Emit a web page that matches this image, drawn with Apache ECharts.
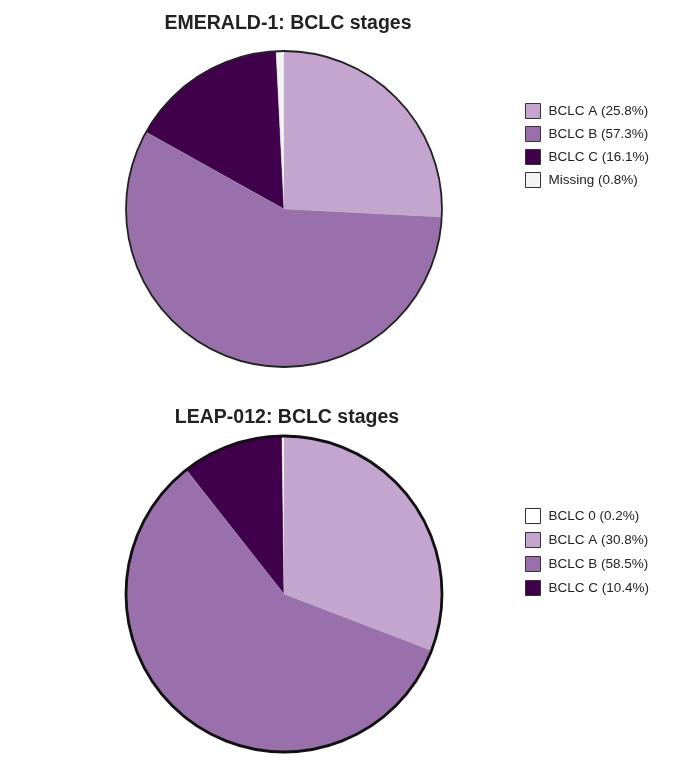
<!DOCTYPE html>
<html>
<head>
<meta charset="utf-8">
<script src="https://cdn.jsdelivr.net/npm/echarts@6/dist/echarts.min.js"></script>
<style>
  html, body { margin: 0; padding: 0; background: #fff; }
  #main { width: 692px; height: 769px; }
</style>
</head>
<body>
<div id="main"></div>
<script>
// EMERALD-1 (drawn clockwise from 12 o'clock)
var emeraldNames = ['BCLC A (25.8%)', 'BCLC B (57.3%)', 'BCLC C (16.1%)', 'Missing (0.8%)'];
var emeraldValues = [25.8, 57.3, 16.1, 0.8];
var emeraldColors = ['#c3a5cf', '#9970ab', '#40004b', '#f4f4f4'];

// LEAP-012
var leapNames = ['BCLC A (30.8%)', 'BCLC B (58.5%)', 'BCLC C (10.4%)', 'BCLC 0 (0.2%)'];
var leapValues = [30.8, 58.5, 10.4, 0.2];
var leapColors = ['#c3a5cf', '#9970ab', '#40004b', '#ffffff'];
var leapLegendOrder = ['BCLC 0 (0.2%)', 'BCLC A (30.8%)', 'BCLC B (58.5%)', 'BCLC C (10.4%)'];

var chart = echarts.init(document.getElementById('main'));

function slices(names, values, colors) {
    return names.map(function (n, i) {
        return {name: n, value: values[i], itemStyle: {color: colors[i]}};
    });
}

function pie(name, center, data) {
    return {
        name: name,
        type: 'pie',
        center: center,
        radius: 158,
        startAngle: 90,
        clockwise: true,
        animation: false,
        label: {show: false},
        labelLine: {show: false},
        emphasis: {disabled: true},
        itemStyle: {borderColor: '#bbb', borderWidth: 0.3},
        data: data
    };
}

// outer ring drawn as its own one-slice pie
function outline(center, width, color) {
    return {
        type: 'pie',
        center: center,
        radius: 158,
        silent: true,
        animation: false,
        label: {show: false},
        labelLine: {show: false},
        itemStyle: {color: 'none', borderColor: color, borderWidth: width},
        data: [{value: 1, name: ''}]
    };
}

var font = 'Liberation Sans, Arial, sans-serif';
var legendText = {color: '#222', fontSize: 13.5, fontFamily: font, padding: [0, 0, 0, 3]};
var legendIcon = {borderColor: '#333', borderWidth: 1};
var titleText = {fontSize: 19.5, fontWeight: 'bold', color: '#222', fontFamily: font};

var option = {
    backgroundColor: '#fff',
    title: [
        {text: 'EMERALD-1: BCLC stages', left: 283, top: 9, textAlign: 'center', textStyle: titleText},
        {text: 'LEAP-012: BCLC stages', left: 282, top: 403, textAlign: 'center', textStyle: titleText}
    ],
    legend: [
        {
            orient: 'vertical', left: 525, top: 103, padding: 0,
            itemWidth: 15, itemHeight: 15, itemGap: 7,
            icon: 'rect',
            itemStyle: legendIcon,
            textStyle: legendText,
            selectedMode: false,
            data: emeraldNames
        },
        {
            orient: 'vertical', left: 525, top: 508, padding: 0,
            itemWidth: 15, itemHeight: 15, itemGap: 8,
            icon: 'rect',
            itemStyle: legendIcon,
            textStyle: legendText,
            selectedMode: false,
            data: leapLegendOrder
        }
    ],
    series: [
        pie('EMERALD-1', [284, 209], slices(emeraldNames, emeraldValues, emeraldColors)),
        outline([284, 209], 1.8, '#222'),
        pie('LEAP-012', [284, 594], slices(leapNames, leapValues, leapColors)),
        outline([284, 594], 2.8, '#111')
    ]
};

chart.setOption(option);
</script>
</body>
</html>
